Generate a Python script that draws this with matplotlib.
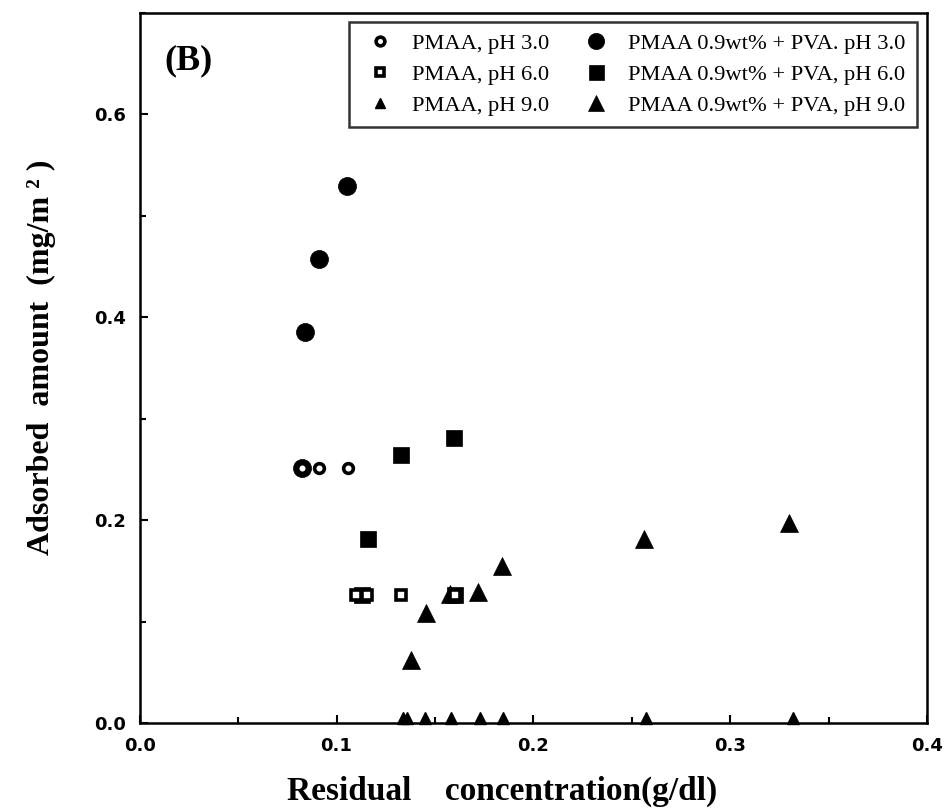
import matplotlib
matplotlib.use("Agg")
import matplotlib.pyplot as plt
from matplotlib.ticker import MultipleLocator, FormatStrFormatter

# ---- data ----
x_pmaa_ph3 = [0.0824, 0.0910, 0.1057]
y_pmaa_ph3 = [0.251, 0.251, 0.251]

x_pmaa_ph6 = [0.1100, 0.1154, 0.1327, 0.1600]
y_pmaa_ph6 = [0.126, 0.126, 0.126, 0.126]

x_pmaa_ph9 = [0.134, 0.136, 0.145, 0.158, 0.173, 0.1845, 0.257, 0.332]
y_pmaa_ph9 = [0.005, 0.005, 0.005, 0.005, 0.005, 0.005, 0.005, 0.005]

x_pva_ph3 = [0.0824, 0.0839, 0.0910, 0.1052]
y_pva_ph3 = [0.251, 0.385, 0.457, 0.529]

x_pva_ph6 = [0.1129, 0.1159, 0.1327, 0.1596, 0.1600]
y_pva_ph6 = [0.126, 0.181, 0.264, 0.281, 0.126]

x_pva_ph9 = [0.1378, 0.1454, 0.1576, 0.1718, 0.184, 0.256, 0.330]
y_pva_ph9 = [0.062, 0.108, 0.127, 0.129, 0.155, 0.181, 0.197]

labels_open = ["PMAA, pH 3.0", "PMAA, pH 6.0", "PMAA, pH 9.0"]
labels_fill = ["PMAA 0.9wt% + PVA. pH 3.0", "PMAA 0.9wt% + PVA, pH 6.0",
               "PMAA 0.9wt% + PVA, pH 9.0"]

serif = "Liberation Serif"

fig = plt.figure(figsize=(9.5, 8.11), dpi=100)
ax = fig.add_axes([0.147, 0.1085, 0.829, 0.8755])

big = dict(linestyle="none", color="black", markeredgecolor="black", clip_on=False)
h4, = ax.plot(x_pva_ph3, y_pva_ph3, marker="o", markersize=13, markeredgewidth=0.5, **big)
h5, = ax.plot(x_pva_ph6, y_pva_ph6, marker="s", markersize=12, markeredgewidth=0.5, **big)
h6, = ax.plot(x_pva_ph9, y_pva_ph9, marker="^", markersize=12.5, markeredgewidth=0.5, **big)

small_open = dict(linestyle="none", markerfacecolor="white", markeredgecolor="black",
                  markersize=7, markeredgewidth=2.6, clip_on=False)
h1, = ax.plot(x_pmaa_ph3, y_pmaa_ph3, marker="o", **small_open)
h2, = ax.plot(x_pmaa_ph6, y_pmaa_ph6, marker="s", **small_open)
h3, = ax.plot(x_pmaa_ph9, y_pmaa_ph9, marker="^", linestyle="none", color="black",
              markersize=8, clip_on=False)

ax.set_xlim(0.0, 0.4)
ax.set_ylim(0.0, 0.7)
ax.xaxis.set_major_locator(MultipleLocator(0.1))
ax.xaxis.set_minor_locator(MultipleLocator(0.05))
ax.yaxis.set_major_locator(MultipleLocator(0.2))
ax.yaxis.set_minor_locator(MultipleLocator(0.1))
ax.xaxis.set_major_formatter(FormatStrFormatter("%.1f"))
ax.yaxis.set_major_formatter(FormatStrFormatter("%.1f"))
ax.tick_params(which="both", direction="in", top=False, right=False, width=1.5)
ax.tick_params(which="major", length=6, labelsize=13, pad=10)
ax.tick_params(which="minor", length=4)
for lab in ax.get_xticklabels() + ax.get_yticklabels():
    lab.set_fontfamily("DejaVu Sans")
    lab.set_fontweight("bold")
for sp in ax.spines.values():
    sp.set_linewidth(1.8)

ax.set_xlabel("Residual    concentration(g/dl)", fontfamily=serif, fontweight="bold",
              fontsize=24)
ax.xaxis.label.set_va("center")
ax.xaxis.set_label_coords(0.46, -0.097)
ax.set_ylabel("Adsorbed  amount  (mg/m ² )", fontfamily=serif, fontweight="bold",
              fontsize=23)
ax.yaxis.label.set_va("center")
ax.yaxis.set_label_coords(-0.1245, 0.515)

ax.text(0.032, 0.932, "(B)", transform=ax.transAxes, fontfamily=serif,
        fontweight="bold", fontsize=26, va="center", ha="left")

leg = ax.legend([h1, h2, h3, h4, h5, h6], labels_open + labels_fill, ncol=2,
                loc="upper right", bbox_to_anchor=(0.987, 0.987), borderaxespad=0,
                frameon=True, fancybox=False, edgecolor="black",
                prop={"family": serif, "size": 16.2}, handletextpad=0.6,
                columnspacing=1.2, labelspacing=0.45, borderpad=0.5,
                handlelength=1.7, markerscale=0.9)
leg.get_frame().set_linewidth(1.8)

fig.savefig("out.png", dpi=100)
